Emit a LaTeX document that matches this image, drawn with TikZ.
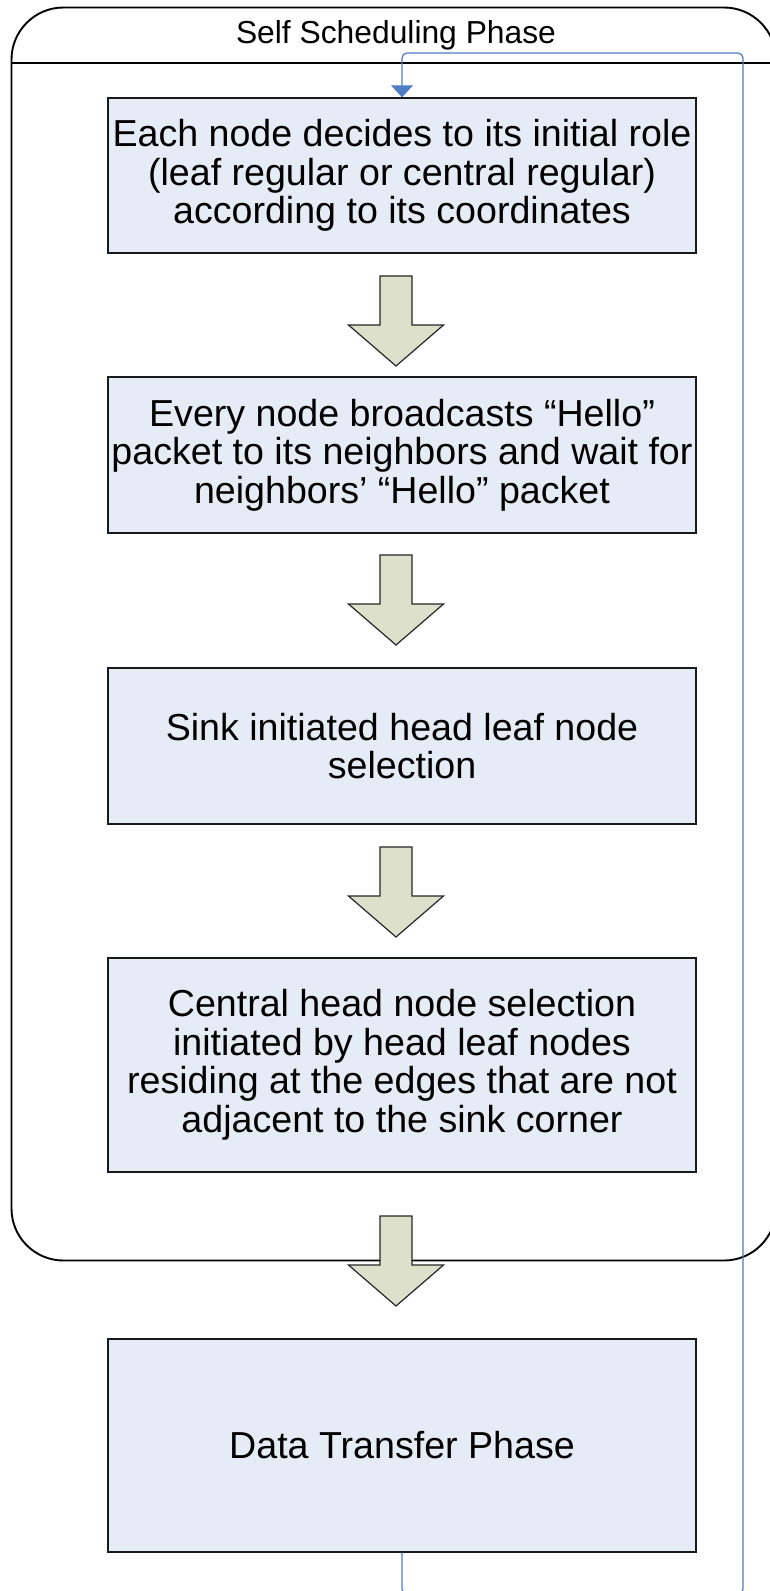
\documentclass[tikz,border=0pt]{standalone}
\usepackage{fontspec}
\setmainfont{Liberation Sans}
\usetikzlibrary{arrows.meta}

\definecolor{boxfill}{HTML}{E6ECF6}
\definecolor{arrowfill}{HTML}{DDE1CC}
\definecolor{loopblue}{HTML}{4F7DC4}

\tikzset{
  stepbox/.style={draw=black!90, line width=1.4pt, fill=boxfill,
    minimum width=588pt, align=center, inner sep=0pt,
    font=\fontsize{37.6}{38.5}\selectfont},
  phasebox/.style={draw=black, line width=1.9pt, rounded corners=52pt,
    inner sep=0pt},
  feedback/.style={draw=loopblue, line width=1.3pt, rounded corners=5pt,
    -{Triangle[width=22pt,length=12pt]}},
  blockarrow/.pic={
    \draw[fill=arrowfill, draw=black!85, line width=1.2pt, line join=miter]
      (-16,0) -- (16,0) -- (16,49) -- (47.5,49) -- (0,90)
      -- (-47.5,49) -- (-16,49) -- cycle;
  }
}

\begin{document}
\begin{tikzpicture}[x=1pt,y=-1pt]
\useasboundingbox (0,0) rectangle (769,1591);

% outer phase container with its title band
\node[phasebox, minimum width=764.5pt, minimum height=1253pt] (phase) at (393.75,634) {};
\draw[line width=1.9pt] (phase.west |- 0,63) -- (phase.east |- 0,63);
\node[font=\fontsize{31.8}{36}\selectfont] (title) at (396,35) {Self Scheduling Phase};

% processing steps
\node[stepbox, minimum height=155pt] (s1) at (402,175.5)
  {Each node decides to its initial role\\(leaf regular or central regular)\\according to its coordinates};
\node[stepbox, minimum height=156pt] (s2) at (402,455)
  {Every node broadcasts “Hello”\\packet to its neighbors and wait for\\neighbors’ “Hello” packet};
\node[stepbox, minimum height=156pt] (s3) at (402,746)
  {Sink initiated head leaf node\\selection};
\node[stepbox, minimum height=214pt] (s4) at (402,1065)
  {Central head node selection\\initiated by head leaf nodes\\residing at the edges that are not\\adjacent to the sink corner};
\node[stepbox, minimum height=213pt] (s5) at (402,1445.5)
  {Data Transfer Phase};

% block arrows between the steps
\pic at (396,276) {blockarrow};
\pic at (396,555) {blockarrow};
\pic at (396,847) {blockarrow};
\pic at (396,1216) {blockarrow};

% feedback loop from data transfer back to the first step
\coordinate (loopbr) at (743,1594);
\coordinate (looptr) at (743,53);
\draw[feedback] (s5.south) |- (loopbr) -- (looptr) -| (s1.north);
\end{tikzpicture}
\end{document}
